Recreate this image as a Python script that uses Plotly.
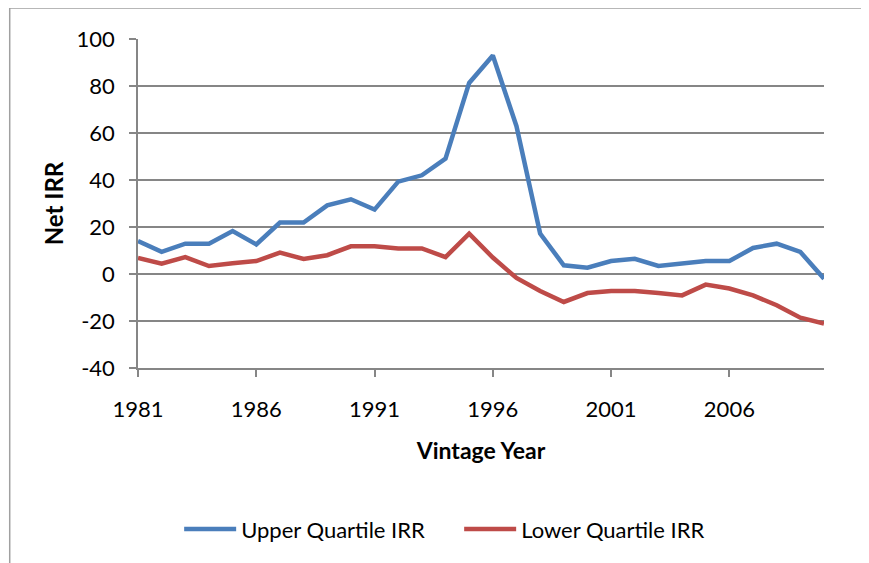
import plotly.graph_objects as go

years = list(range(1981, 2011))
upper_irr = [14.0, 9.4, 12.9, 12.9, 18.3, 12.6, 21.9, 21.9, 29.2, 31.8,
             27.4, 39.3, 42.0, 49.1, 81.3, 93.0, 62.9, 17.2, 3.7, 2.7,
             5.5, 6.5, 3.4, 4.4, 5.5, 5.5, 11.1, 12.9, 9.4, -2.0]
lower_irr = [6.8, 4.4, 7.2, 3.4, 4.6, 5.5, 9.1, 6.4, 8.0, 11.8,
             11.8, 10.9, 10.9, 7.2, 17.2, 7.0, -1.7, -7.2, -11.9, -8.1,
             -7.2, -7.2, -8.1, -9.1, -4.5, -6.2, -9.1, -13.3, -18.6, -21.1]

y_tickvals = [-40, -20, 0, 20, 40, 60, 80, 100]
y_ticktext = ['-40', '-20', '0', '20', '40', '60', '80', '100']

font_family = 'Lato, Calibri, sans-serif'
grid_color = '#868686'

fig = go.Figure()
fig.add_trace(go.Scatter(x=years, y=upper_irr, mode='lines', name='Upper Quartile IRR',
                         line=dict(color='#4A7EBB', width=4.5)))
fig.add_trace(go.Scatter(x=years, y=lower_irr, mode='lines', name='Lower Quartile IRR',
                         line=dict(color='#BE4B48', width=4.5)))

# outer chart frame (cut off at right and bottom like the reference)
fig.add_shape(type='rect', xref='paper', yref='paper',
              x0=-0.187, x1=1.2, y0=-0.8, y1=1.094,
              line=dict(color='#A0A0A0', width=1.5), layer='below')

fig.update_layout(
    width=869, height=563,
    margin=dict(l=130, r=53, t=31, b=203),
    paper_bgcolor='white', plot_bgcolor='white',
    font=dict(family=font_family, size=22, color='black'),
    showlegend=True,
    legend=dict(orientation='h', x=0.06, xanchor='left', y=-0.49, yanchor='middle',
                font=dict(size=22), entrywidth=213, itemwidth=52, tracegroupgap=0),
    xaxis=dict(range=[1981, 2010], tick0=1981, dtick=5, showgrid=False, zeroline=False,
               showline=True, linecolor=grid_color, linewidth=1.5,
               ticks='outside', ticklen=7, tickcolor=grid_color, tickwidth=1.5,
               ticklabelstandoff=14,
               title=dict(text='<b>Vintage Year</b>', standoff=22, font=dict(size=23))),
    yaxis=dict(range=[-40, 100], tickvals=y_tickvals, ticktext=y_ticktext,
               showgrid=True, gridcolor=grid_color, gridwidth=1.5,
               zeroline=False, showline=True, linecolor=grid_color, linewidth=1.5,
               ticks='outside', ticklen=7, tickcolor=grid_color, tickwidth=1.5,
               ticklabelstandoff=10,
               title=dict(text='<b>Net IRR</b>', standoff=6, font=dict(size=24))),
)

fig.write_html('out.html')
